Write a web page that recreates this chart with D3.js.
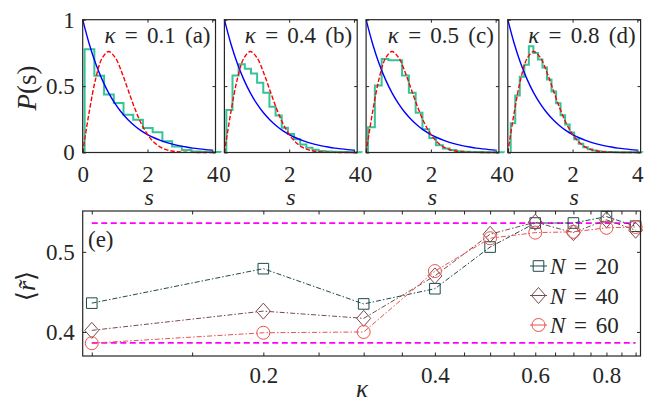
<!DOCTYPE html>
<html><head><meta charset="utf-8">
<script src="https://cdn.jsdelivr.net/npm/d3@7"></script>
<style>
body{margin:0;background:#fff}
svg{display:block}
svg text{font-family:"Liberation Serif","Times New Roman","DejaVu Serif","Noto Serif",Times,serif;fill:#262626}
</style>
</head><body>
<svg id="c" width="656" height="416"></svg>
<script>
// ---------- data: top panels (level-spacing distributions) ----------
const panelKappa = ["0.1", "0.4", "0.5", "0.8"];
const panelTag = ["(a)", "(b)", "(c)", "(d)"];
const histStart = [0.06, 0.06, 0.06, 0.09];
const histWidth = [0.30, 0.19, 0.21, 0.14];
const histA = [0.777, 0.578, 0.436, 0.372, 0.285, 0.247, 0.184, 0.153, 0.084, 0.046, 0.019, 0.008, 0.005, 0.003];
const histB = [0.32, 0.58, 0.665, 0.63, 0.595, 0.525, 0.45, 0.345, 0.278, 0.187, 0.14, 0.10, 0.06, 0.035, 0.02, 0.012, 0.008, 0.005, 0.004, 0.003, 0.002, 0.002];
const histC = [0.19, 0.505, 0.705, 0.695, 0.695, 0.58, 0.45, 0.30, 0.175, 0.11, 0.055, 0.03, 0.018, 0.01, 0.006, 0.004, 0.003, 0.002, 0.002, 0.001];
const histD = [0.22, 0.43, 0.57, 0.66, 0.80, 0.75, 0.70, 0.64, 0.55, 0.46, 0.37, 0.28, 0.21, 0.15, 0.10, 0.065, 0.04, 0.025, 0.015, 0.01, 0.006, 0.004, 0.003, 0.002, 0.002, 0.001, 0.001, 0.001, 0.001];
const sGrid = [0, 0.2, 0.4, 0.6, 0.8, 1.0, 1.2, 1.4, 1.6, 1.8, 2.0, 2.2, 2.4, 2.6, 2.8, 3.0, 3.2, 3.4, 3.6, 3.8, 4.0];
const poisson = [1, 0.819, 0.670, 0.549, 0.449, 0.368, 0.301, 0.247, 0.202, 0.165, 0.135, 0.111, 0.091, 0.074, 0.061, 0.050, 0.041, 0.033, 0.027, 0.022, 0.018];
const wigner = [0, 0.3045, 0.5541, 0.7103, 0.7601, 0.7161, 0.6083, 0.4717, 0.3365, 0.2219, 0.1357, 0.0772, 0.0409, 0.0202, 0.0093, 0.0040, 0.0016, 0.0006, 0.0002, 0.0001, 0];
const sTicks = [0, 2, 4];
const pTicks = [0, 0.5, 1];
const pTickLabels = ["0", "0.5", "1"];

// ---------- data: bottom panel (mean ratio vs kappa) ----------
const kappa = [0.1, 0.2, 0.3, 0.4, 0.5, 0.6, 0.7, 0.8, 0.9];
const r20 = [0.436, 0.479, 0.435, 0.454, 0.506, 0.536, 0.536, 0.544, 0.532];
const r40 = [0.402, 0.426, 0.417, 0.470, 0.522, 0.537, 0.524, 0.540, 0.527];
const r60 = [0.386, 0.399, 0.400, 0.476, 0.517, 0.524, 0.525, 0.530, 0.531];
const seriesN = ["20", "40", "60"];
const rGOE = 0.5359, rPoisson = 0.3863;
const kappaTicks = [0.1, 0.15, 0.2, 0.25, 0.3, 0.35, 0.4, 0.45, 0.5, 0.55, 0.6, 0.65, 0.7, 0.75, 0.8, 0.85, 0.9];
const kappaLabeled = [0.2, 0.4, 0.6, 0.8];
const rTicks = [0.4, 0.5];
const rTickLabels = ["0.4", "0.5"];

// ---------- drawing ----------
const svg = d3.select("#c");
const ink = "#262626";
const fontTick = 23;
const serif = "Liberation Serif, Times New Roman, DejaVu Serif, serif";

function styleAxis(sel, fs) {
  sel.attr("font-family", serif);
  sel.select(".domain").remove();
  sel.selectAll(".tick line").attr("stroke", ink).attr("stroke-width", 1);
  sel.selectAll("text").attr("font-size", fs).attr("fill", ink);
}

const topY = d3.scaleLinear().domain([0, 1]).range([152.5, 19.7]);
const hists = [histA, histB, histC, histD];
const panelW = 132.8, panelStep = 141.7, left0 = 82.7;

hists.forEach((h, i) => {
  const L = left0 + i * panelStep, R = L + panelW;
  const x = d3.scaleLinear().domain([0, 4.1]).range([L, R]);
  const g = svg.append("g");

  // histogram (stairs)
  const edge = k => histStart[i] + k * histWidth[i];
  const p = d3.path();
  p.moveTo(x(edge(0)), topY(0));
  h.forEach((v, k) => { p.lineTo(x(edge(k)), topY(v)); p.lineTo(x(edge(k + 1)), topY(v)); });
  p.lineTo(x(edge(h.length)), topY(0));
  g.append("path").attr("d", p.toString()).attr("fill", "none")
    .attr("stroke", "#35c498").attr("stroke-width", 2).attr("stroke-linejoin", "miter");

  const line = d3.line().x((d, k) => x(sGrid[k])).y(d => topY(d)).curve(d3.curveCatmullRom);
  g.append("path").attr("d", line(poisson)).attr("fill", "none").attr("stroke", "#0000ff").attr("stroke-width", 1.4);
  g.append("path").attr("d", line(wigner)).attr("fill", "none").attr("stroke", "#ff0000").attr("stroke-width", 1.4).attr("stroke-dasharray", "4.5,2");

  // frame
  g.append("rect").attr("x", L).attr("y", topY(1)).attr("width", R - L).attr("height", topY(0) - topY(1))
    .attr("fill", "none").attr("stroke", ink).attr("stroke-width", 1.2);

  // axes
  const ab = g.append("g").attr("transform", `translate(0,${topY(0)})`)
    .call(d3.axisBottom(x).tickValues(sTicks).tickFormat(d3.format("d")).tickSizeInner(-3).tickSizeOuter(0));
  styleAxis(ab, fontTick);
  ab.selectAll("text").attr("y", 29).attr("dy", 0);
  const at = g.append("g").attr("transform", `translate(0,${topY(1)})`)
    .call(d3.axisTop(x).tickValues(sTicks).tickFormat("").tickSizeInner(-3).tickSizeOuter(0));
  styleAxis(at, fontTick);
  const al = g.append("g").attr("transform", `translate(${L},0)`)
    .call(d3.axisLeft(topY).tickValues(pTicks).tickFormat((d, k) => i === 0 ? pTickLabels[k] : "").tickSizeInner(-3).tickSizeOuter(0).tickPadding(8));
  styleAxis(al, fontTick);
  const ar = g.append("g").attr("transform", `translate(${R},0)`)
    .call(d3.axisRight(topY).tickValues(pTicks).tickFormat("").tickSizeInner(-3).tickSizeOuter(0));
  styleAxis(ar, fontTick);

  // title
  const t = g.append("text").attr("x", R - 5).attr("y", 43).attr("text-anchor", "end")
    .attr("font-size", 23).attr("word-spacing", 3.5);
  t.append("tspan").attr("font-style", "italic").text("κ");
  t.append("tspan").text(" = " + panelKappa[i] + " " + panelTag[i]);

  // x label
  g.append("text").attr("x", (L + R) / 2).attr("y", 205).attr("text-anchor", "middle")
    .attr("font-size", 24).attr("font-style", "italic").text("s");
});

// y label top
{
  const t = svg.append("text").attr("transform", "translate(36,88) rotate(-90)").attr("text-anchor", "middle").attr("font-size", 27);
  t.append("tspan").attr("font-style", "italic").text("P");
  t.append("tspan").text("(s)");
}

// ---------- bottom panel ----------
const bx = d3.scaleLog().domain([0.0964, 0.918]).range([82.7, 640.5]);
const by = d3.scaleLinear().domain([0.37, 0.551]).range([356, 211]);
const gb = svg.append("g");

// reference lines
[rGOE, rPoisson].forEach(v => {
  gb.append("line").attr("x1", bx(kappa[0])).attr("x2", bx(kappa[kappa.length - 1]))
    .attr("y1", by(v)).attr("y2", by(v))
    .attr("stroke", "#ff00ff").attr("stroke-width", 1.8).attr("stroke-dasharray", "6,3.5");
});

const colors = ["#1d4b4a", "#7a4a4a", "#e9524f"];
const seriesData = [r20, r40, r60];
const markerPath = [
  (cx, cy) => `M${cx - 5.3},${cy - 5.3}h10.6v10.6h-10.6Z`,
  (cx, cy) => `M${cx},${cy - 8}L${cx + 7},${cy}L${cx},${cy + 8}L${cx - 7},${cy}Z`,
  (cx, cy) => `M${cx + 6.5},${cy}A6.5,6.5 0 1,1 ${cx - 6.5},${cy}A6.5,6.5 0 1,1 ${cx + 6.5},${cy}Z`
];
const bline = d3.line().x((d, k) => bx(kappa[k])).y(d => by(d));
seriesData.forEach((s, j) => {
  gb.append("path").attr("d", bline(s)).attr("fill", "none").attr("stroke", colors[j])
    .attr("stroke-width", 1).attr("stroke-dasharray", "5,2,1.5,2");
  s.forEach((v, k) => {
    gb.append("path").attr("d", markerPath[j](bx(kappa[k]), by(v))).attr("fill", "none")
      .attr("stroke", colors[j]).attr("stroke-width", 1);
  });
});

// frame
gb.append("rect").attr("x", 82.7).attr("y", 211).attr("width", 640.5 - 82.7).attr("height", 356 - 211)
  .attr("fill", "none").attr("stroke", ink).attr("stroke-width", 1.2);

const bb = gb.append("g").attr("transform", "translate(0,356)")
  .call(d3.axisBottom(bx).tickValues(kappaTicks).tickFormat(d => kappaLabeled.includes(d) ? String(d) : "").tickSizeInner(-3.5).tickSizeOuter(0));
styleAxis(bb, fontTick);
bb.selectAll("text").attr("y", 27).attr("dy", 0);
const bt = gb.append("g").attr("transform", "translate(0,211)")
  .call(d3.axisTop(bx).tickValues(kappaTicks).tickFormat("").tickSizeInner(-3.5).tickSizeOuter(0));
styleAxis(bt, fontTick);
const bl = gb.append("g").attr("transform", "translate(82.7,0)")
  .call(d3.axisLeft(by).tickValues(rTicks).tickFormat((d, k) => rTickLabels[k]).tickSizeInner(-3.5).tickSizeOuter(0).tickPadding(8));
styleAxis(bl, fontTick);
const br = gb.append("g").attr("transform", "translate(640.5,0)")
  .call(d3.axisRight(by).tickValues(rTicks).tickFormat("").tickSizeInner(-3.5).tickSizeOuter(0));
styleAxis(br, fontTick);

// panel tag
gb.append("text").attr("x", 88).attr("y", 247).attr("font-size", 23).text("(e)");

// legend
seriesN.forEach((n, j) => {
  const y = 266 + j * 29.5;
  gb.append("line").attr("x1", 530).attr("x2", 547).attr("y1", y).attr("y2", y)
    .attr("stroke", colors[j]).attr("stroke-width", 1);
  gb.append("path").attr("d", markerPath[j](538.5, y)).attr("fill", "none").attr("stroke", colors[j]).attr("stroke-width", 1);
  const t = gb.append("text").attr("x", 550).attr("y", y).attr("dy", "0.35em").attr("font-size", 23).attr("word-spacing", 3);
  t.append("tspan").attr("font-style", "italic").text("N");
  t.append("tspan").text(" = " + n);
});

// axis labels
svg.append("text").attr("x", 362).attr("y", 397).attr("text-anchor", "middle").attr("font-size", 25).attr("font-style", "italic").text("κ");
{
  const t = svg.append("text").attr("transform", "translate(35,286) rotate(-90)").attr("text-anchor", "middle").attr("font-size", 26);
  t.append("tspan").text("⟨");
  t.append("tspan").attr("font-style", "italic").text("r\u0303");
  t.append("tspan").text("⟩");
}
</script>
</body></html>
